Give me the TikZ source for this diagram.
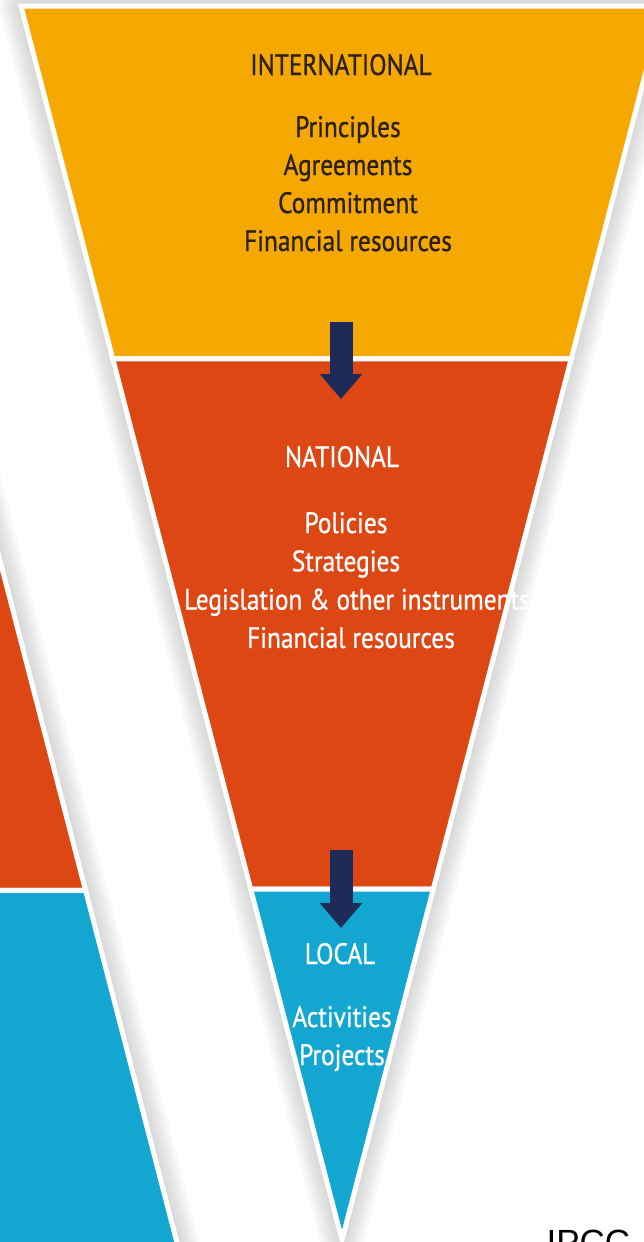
\documentclass[tikz,border=0pt]{standalone}
\usepackage{fontspec}
\setmainfont[FakeStretch=0.86,FakeBold=0.8]{PT Sans}
\newfontfamily\ipccfont{Liberation Sans}
\usetikzlibrary{calc,arrows.meta,positioning}
\definecolor{intlyellow}{HTML}{F5A800}
\definecolor{natorange}{HTML}{DD4714}
\definecolor{localblue}{HTML}{12A6D0}
\definecolor{arrownavy}{HTML}{1E2B59}
\definecolor{darktext}{HTML}{2B2118}
\tikzset{
  band/.style={draw=white, line width=5pt, line join=miter},
  halo/.style={draw=black, opacity=0.022, line join=round},
  levelfont/.style={font=\fontsize{29.5}{34}\selectfont, anchor=base},
  downarrow/.style={draw=arrownavy, line width=23pt, -{Triangle[width=41pt,length=25pt]}},
}
\begin{document}
\begin{tikzpicture}[x=1pt,y=-1pt]
            \useasboundingbox (0,0) rectangle (644,1242);
            \clip (0,0) rectangle (644,1242);
            % main funnel
            \coordinate (tl) at (21,6);
            \coordinate (tr) at (663,6);
            \coordinate (apex) at (342,1240);
            \coordinate (y1l) at ($(tl)!0.286!(apex)$);
            \coordinate (y1r) at ($(tr)!0.286!(apex)$);
            \coordinate (y2l) at ($(tl)!0.7156!(apex)$);
            \coordinate (y2r) at ($(tr)!0.7156!(apex)$);
            % strip on the left
            \coordinate (lfar) at (-300,0);
            \coordinate (ltop) at (-80,252);
            \coordinate (lbot) at (182,1262);
            \coordinate (lmid) at ($(ltop)!0.632!(lbot)$);
            % soft shadows
            \foreach \w in {44,38,...,4} {
                \draw[halo, line width=\w pt] (tl) -- (tr) -- (apex) -- cycle;
                \draw[halo, line width=\w pt] (ltop) -- (lbot);
            }
            \filldraw[band, fill=natorange] (ltop -| lfar) -- (ltop) -- (lmid) -- (lmid -| lfar) -- cycle;
            \filldraw[band, fill=localblue] (lmid -| lfar) -- (lmid) -- (lbot) -- (lbot -| lfar) -- cycle;
            \filldraw[band, fill=intlyellow] (tl) -- (tr) -- (y1r) -- (y1l) -- cycle;
            \filldraw[band, fill=natorange] (y1l) -- (y1r) -- (y2r) -- (y2l) -- cycle;
            \filldraw[band, fill=localblue] (y2l) -- (y2r) -- (apex) -- cycle;
            % arrows between levels
            \coordinate (arr1s) at (341,322);
            \coordinate (arr1e) at (341,399);
            \coordinate (arr2s) at (341,850);
            \coordinate (arr2e) at (341,928);
            \draw[downarrow] (arr1s) -- (arr1e);
            \draw[downarrow] (arr2s) -- (arr2e);
            % labels
            \node[levelfont, text=darktext] (intl) at (341,75) {INTERNATIONAL};
            \foreach \txt [count=\i] in {Principles, Agreements, Commitment, Financial resources}
                \node[levelfont, text=darktext] (intl-\i) at (348,{137+38*(\i-1)}) {\txt};
            \node[levelfont, text=white] (nat) at (342,467) {NATIONAL};
            \foreach \x/\txt [count=\i] in {346/Policies, 346/Strategies, 357/Legislation \& other instruments, 351/Financial resources}
                \node[levelfont, text=white] (nat-\i) at (\x,{533+38.3*(\i-1)}) {\txt};
            \node[levelfont, text=white] (loc) at (340,964) {LOCAL};
            \foreach \txt [count=\i] in {Activities, Projects}
                \node[levelfont, text=white] (loc-\i) at (342,{1027+38*(\i-1)}) {\txt};
            \node[font=\ipccfont\fontsize{35}{40}\selectfont, anchor=base west] (src) at (543,1254) {IPCC};
        \end{tikzpicture}
\end{document}
